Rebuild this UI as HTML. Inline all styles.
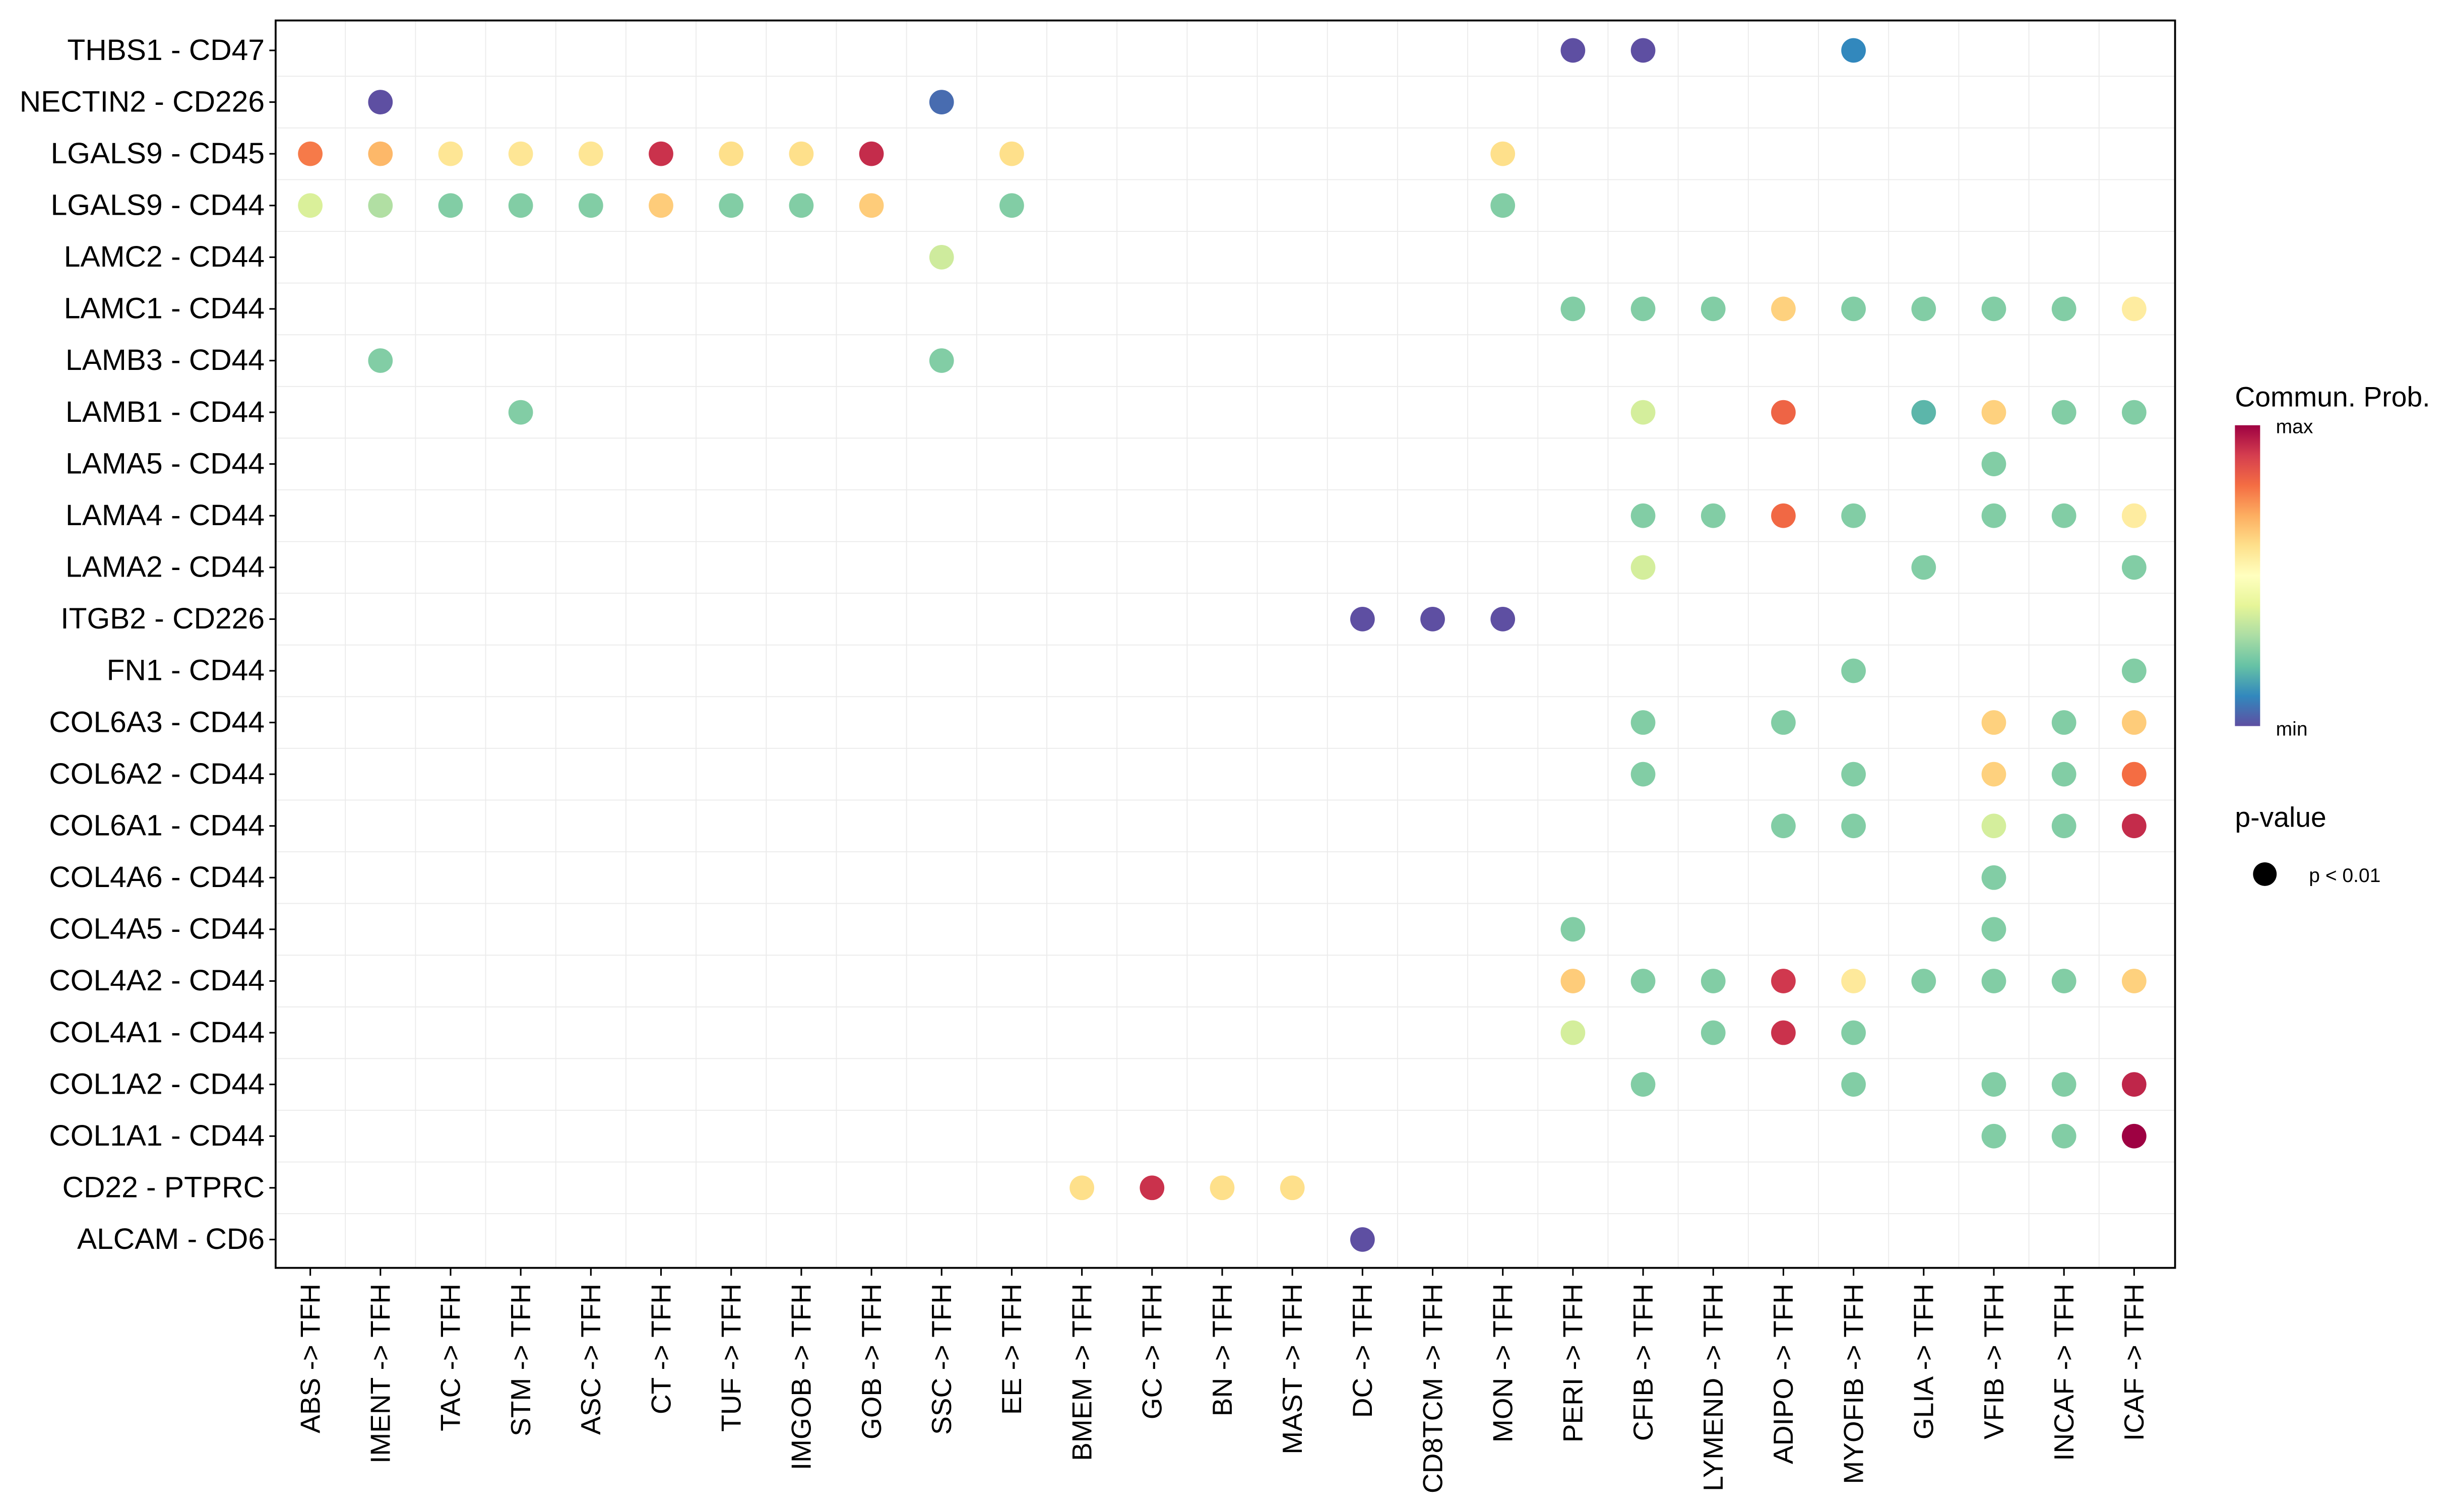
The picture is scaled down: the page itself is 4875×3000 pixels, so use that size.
<!DOCTYPE html>
<html><head><meta charset="utf-8"><style>
html,body{margin:0;padding:0;background:#fff;}
svg{display:block;font-family:"Liberation Sans",sans-serif;}
</style></head><body>
<svg id="chart" width="4875" height="3000" viewBox="0 0 1560 960" xmlns="http://www.w3.org/2000/svg">
<defs><linearGradient id="cbar" x1="0" y1="1" x2="0" y2="0">
<stop offset="0" stop-color="#5E4FA2"/><stop offset="0.1" stop-color="#3288BD"/><stop offset="0.2" stop-color="#66C2A5"/><stop offset="0.3" stop-color="#ABDDA4"/><stop offset="0.4" stop-color="#E6F598"/><stop offset="0.5" stop-color="#FFFFBF"/><stop offset="0.6" stop-color="#FEE08B"/><stop offset="0.7" stop-color="#FDAE61"/><stop offset="0.8" stop-color="#F46D43"/><stop offset="0.9" stop-color="#D53E4F"/><stop offset="1" stop-color="#9E0142"/>
</linearGradient></defs>
<rect x="0" y="0" width="1560" height="960" fill="#fff"/>
<g id="grid"></g>
<g id="dots"></g>
<rect x="175" y="13" width="1206" height="792" fill="none" stroke="#000" stroke-width="1.2"/>
<g id="yaxis"></g>
<g id="xaxis"></g>
<g>
<text x="1419" y="258" font-size="17.7">Commun. Prob.</text>
<rect x="1419" y="270" width="16" height="191" fill="url(#cbar)"/>
<text x="1445" y="275" font-size="12.5">max</text>
<text x="1445" y="467" font-size="12.5">min</text>
</g>
<g>
<text x="1419" y="525" font-size="17.7">p-value</text>
<circle cx="1438" cy="555" r="7.5" fill="#000"/>
<text x="1466" y="560" font-size="12.5">p &lt; 0.01</text>
</g>
</svg>
<script>
const rowLabels = ["THBS1 - CD47","NECTIN2 - CD226","LGALS9 - CD45","LGALS9 - CD44","LAMC2 - CD44","LAMC1 - CD44","LAMB3 - CD44","LAMB1 - CD44","LAMA5 - CD44","LAMA4 - CD44","LAMA2 - CD44","ITGB2 - CD226","FN1 - CD44","COL6A3 - CD44","COL6A2 - CD44","COL6A1 - CD44","COL4A6 - CD44","COL4A5 - CD44","COL4A2 - CD44","COL4A1 - CD44","COL1A2 - CD44","COL1A1 - CD44","CD22 - PTPRC","ALCAM - CD6"];
const colLabels = ["ABS -> TFH","IMENT -> TFH","TAC -> TFH","STM -> TFH","ASC -> TFH","CT -> TFH","TUF -> TFH","IMGOB -> TFH","GOB -> TFH","SSC -> TFH","EE -> TFH","BMEM -> TFH","GC -> TFH","BN -> TFH","MAST -> TFH","DC -> TFH","CD8TCM -> TFH","MON -> TFH","PERI -> TFH","CFIB -> TFH","LYMEND -> TFH","ADIPO -> TFH","MYOFIB -> TFH","GLIA -> TFH","VFIB -> TFH","INCAF -> TFH","ICAF -> TFH"];
const dotRows = [0,0,0, 1,1, 2,2,2,2,2,2,2,2,2,2,2, 3,3,3,3,3,3,3,3,3,3,3, 4, 5,5,5,5,5,5,5,5,5, 6,6, 7,7,7,7,7,7,7, 8, 9,9,9,9,9,9,9,9, 10,10,10, 11,11,11, 12,12, 13,13,13,13,13, 14,14,14,14,14, 15,15,15,15,15, 16, 17,17, 18,18,18,18,18,18,18,18,18, 19,19,19,19, 20,20,20,20,20, 21,21,21, 22,22,22,22, 23];
const dotCols = [18,19,22, 1,9, 0,1,2,3,4,5,6,7,8,10,17, 0,1,2,3,4,5,6,7,8,10,17, 9, 18,19,20,21,22,23,24,25,26, 1,9, 3,19,21,23,24,25,26, 24, 19,20,21,22,24,25,26,26, 19,23,26, 15,16,17, 22,26, 19,21,24,25,26, 19,22,24,25,26, 21,22,24,25,26, 24, 18,24, 18,19,20,21,22,23,24,25,26, 18,20,21,22, 19,22,24,25,26, 24,25,26, 11,12,13,14, 15];
const dotProbs = [0,0,0.1, 0,0.05, 0.78,0.68,0.58,0.58,0.58,0.92,0.6,0.6,0.93,0.6,0.6, 0.38,0.31,0.24,0.24,0.24,0.64,0.24,0.24,0.64,0.24,0.24, 0.36, 0.24,0.24,0.24,0.63,0.24,0.24,0.24,0.24,0.56, 0.24,0.24, 0.24,0.37,0.82,0.18,0.63,0.24,0.24, 0.24, 0.24,0.24,0.81,0.24,0.24,0.24,0.56,0.56, 0.37,0.24,0.24, 0,0,0, 0.24,0.24, 0.24,0.24,0.63,0.24,0.64, 0.24,0.24,0.63,0.24,0.8, 0.24,0.24,0.37,0.24,0.93, 0.24, 0.24,0.24, 0.64,0.24,0.24,0.91,0.57,0.24,0.24,0.24,0.63, 0.37,0.24,0.92,0.24, 0.24,0.24,0.24,0.24,0.94, 0.24,0.24,1.0, 0.6,0.92,0.6,0.6, 0];

const NS = "http://www.w3.org/2000/svg";
const PAL = ["#5E4FA2","#3288BD","#66C2A5","#ABDDA4","#E6F598","#FFFFBF","#FEE08B","#FDAE61","#F46D43","#D53E4F","#9E0142"];
function hex(h){return [parseInt(h.slice(1,3),16),parseInt(h.slice(3,5),16),parseInt(h.slice(5,7),16)];}
function colorFor(v){v=Math.max(0,Math.min(1,v));const t=v*10;const i=Math.min(9,Math.floor(t));const f=t-i;const a=hex(PAL[i]),b=hex(PAL[i+1]);return "rgb("+a.map((c,k)=>Math.round(c+(b[k]-c)*f)).join(",")+")";}
const X0=197, DX=(1355-197)/26, Y0=32, DY=(787-32)/23;
function xScale(i){return X0+i*DX;}
function yScale(j){return Y0+j*DY;}
function mk(tag,attrs){const e=document.createElementNS(NS,tag);for(const k in attrs)e.setAttribute(k,attrs[k]);return e;}

const grid=document.getElementById('grid');
for(let i=0;i<colLabels.length-1;i++){
  const x=(xScale(i)+xScale(i+1))/2;
  const l=mk('line',{x1:x,x2:x,y1:13,y2:805,stroke:'#ebebeb','stroke-width':0.6});
  
  
  grid.appendChild(l);
}
for(let j=0;j<rowLabels.length-1;j++){
  const y=(yScale(j)+yScale(j+1))/2;
  const l=mk('line',{x1:175,x2:1381,y1:y,y2:y,stroke:'#ebebeb','stroke-width':0.6});
  
  
  grid.appendChild(l);
}
const ya=document.getElementById('yaxis');
rowLabels.forEach((lab,j)=>{
  const y=yScale(j);
  const t=mk('line',{x1:171,x2:175,y1:y,y2:y,stroke:'#000','stroke-width':1});
  
  
  ya.appendChild(t);
  const tx=mk('text',{x:168,y:y+6,'text-anchor':'end','font-size':18.8,fill:'#000'});
  tx.textContent=lab;
  
  
  ya.appendChild(tx);
});
const xa=document.getElementById('xaxis');
colLabels.forEach((lab,i)=>{
  const x=xScale(i);
  const t=mk('line',{x1:x,x2:x,y1:805,y2:810,stroke:'#000','stroke-width':1});
  
  
  xa.appendChild(t);
  const tx=mk('text',{x:0,y:0,'text-anchor':'end','font-size':17.6,fill:'#000',transform:'translate('+(x+6)+',815) rotate(-90)'});
  tx.textContent=lab;
  
  
  xa.appendChild(tx);
});
const dg=document.getElementById('dots');
dotProbs.forEach((v,k)=>{
  const c=mk('circle',{cx:xScale(dotCols[k]),cy:yScale(dotRows[k]),r:7.8,fill:colorFor(v)});
  
  
  dg.appendChild(c);
});
</script>
</body></html>
